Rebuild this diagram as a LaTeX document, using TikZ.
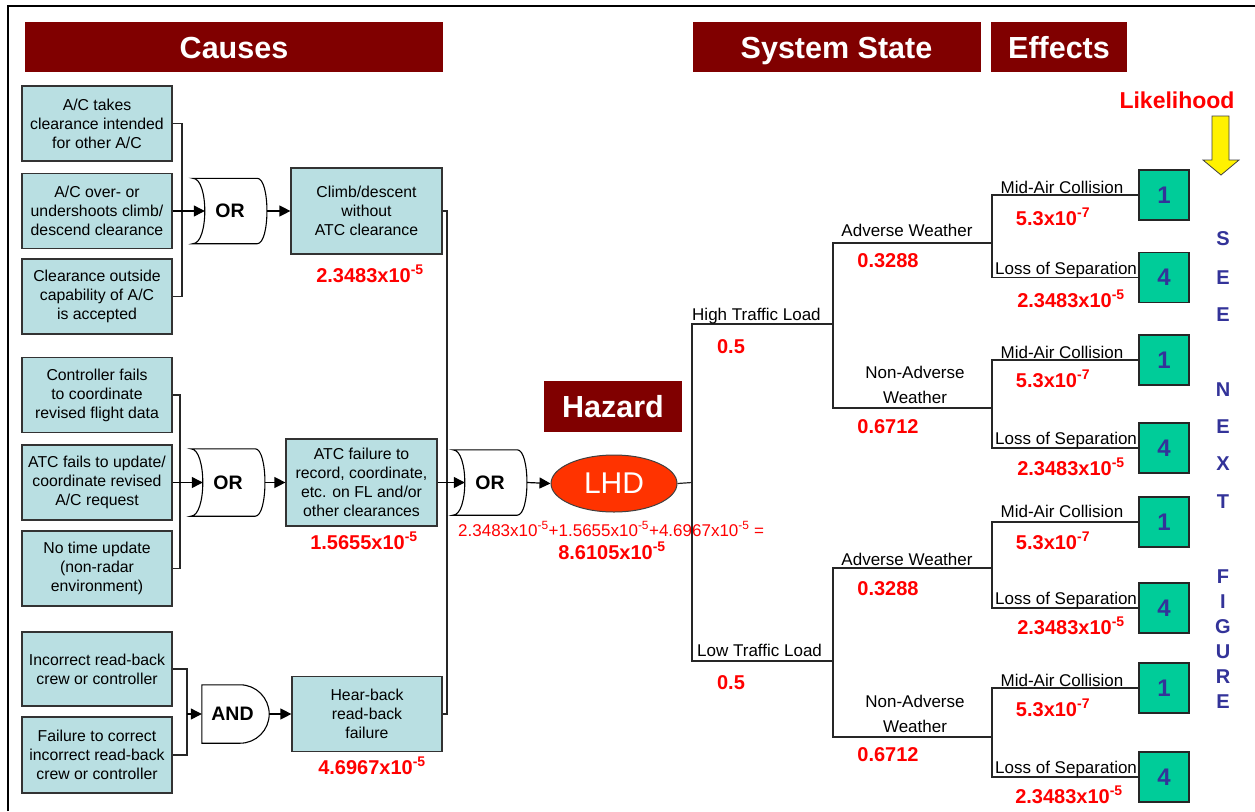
\documentclass[tikz,border=0pt]{standalone}
\usepackage{fontspec}
\setmainfont{Liberation Sans}
\usetikzlibrary{arrows.meta,shapes.geometric}
\definecolor{hdrmaroon}{HTML}{800000}
\definecolor{boxblue}{HTML}{B9DFE2}
\definecolor{effgreen}{HTML}{00CC99}
\definecolor{seeblue}{HTML}{333399}
\definecolor{lhdred}{HTML}{FF3300}
\newcommand\tenexp[2]{#1x10\textsuperscript{-#2}}
\newcommand\orshape[1]{\draw[gateline] (#1.north west) -- ([xshift=-10pt]#1.north east)
  .. controls ([xshift=3pt]#1.north east) and ([xshift=3pt]#1.south east) .. ([xshift=-10pt]#1.south east)
  -- (#1.south west) .. controls ([xshift=16pt]#1.south west) and ([xshift=16pt]#1.north west) .. cycle;}
\newcommand\andshape[1]{\draw[gateline] (#1.north west) -- ([xshift=-29pt]#1.north east)
  .. controls ([xshift=-13pt]#1.north east) and ([yshift=16pt]#1.east) .. (#1.east)
  .. controls ([yshift=-16pt]#1.east) and ([xshift=-13pt]#1.south east) .. ([xshift=-29pt]#1.south east)
  -- (#1.south west) -- cycle;}
\begin{document}
\begin{tikzpicture}[x=1pt,y=-1pt,
  header/.style={fill=hdrmaroon, text=white, font=\fontsize{30.5}{34}\selectfont\bfseries, inner sep=0, minimum height=50, text height=22pt, text depth=0pt},
  cause/.style={draw=black!80, fill=boxblue, line width=1.2pt, minimum width=150, minimum height=75, inner sep=0, align=center, font=\fontsize{15.8}{19}\selectfont},
  gate/.style={minimum width=74, minimum height=65, inner sep=0, font=\fontsize{19.5}{22}\selectfont\bfseries},
  gateline/.style={draw=black, fill=white, line width=1.1pt},
  wire/.style={draw=black!85, line width=1.2pt},
  arr/.style={draw=black, line width=1.2pt, -{Triangle[length=11pt,width=11pt]}},
  effbox/.style={draw=black!85, fill=effgreen, line width=1.5pt, minimum width=50, minimum height=50, inner sep=0, text=seeblue, font=\fontsize{24}{26}\selectfont\bfseries},
  lbl/.style={inner sep=0, font=\fontsize{17}{25}\selectfont},
  val/.style={inner sep=0, text=red, font=\fontsize{20}{24}\selectfont\bfseries, anchor=base},
  see/.style={inner sep=0, text=seeblue, font=\fontsize{20}{24}\selectfont\bfseries, anchor=base}
]
\useasboundingbox (0,0) rectangle (1255,811);
\fill[white] (0,0) rectangle (1255,811);
\draw[line width=2.2pt] (8,811) -- (8,6) -- (1255,6);

% headers
\node[header, minimum width=418] (hc) at (234,47) {Causes};
\node[header, minimum width=288] (hs) at (836.5,47) {System State};
\node[header, minimum width=136] (he) at (1059,47) {Effects};
\node[header, minimum width=138, minimum height=51] (hz) at (613,406.5) {Hazard};

% cause boxes
\node[cause] (b1) at (97,123.5) {A/C takes\\clearance intended\\for other A/C};
\node[cause] (b2) at (97,211) {A/C over- or\\undershoots climb/\\descend clearance};
\node[cause] (b3) at (97,296.5) {Clearance outside\\capability of A/C\\is accepted};
\node[cause] (b4) at (97,395) {Controller fails\\to coordinate\\revised flight data};
\node[cause] (b5) at (97,482.5) {ATC fails to update/\\coordinate revised\\A/C request};
\node[cause] (b6) at (97,568.5) {No time update\\(non-radar\\environment)};
\node[cause, minimum height=74] (b7) at (97,669) {Incorrect read-back\\crew or controller};
\node[cause, minimum height=76] (b8) at (97,755) {Failure to correct\\incorrect read-back\\crew or controller};

% intermediate boxes
\node[cause, minimum width=151, minimum height=86] (c1) at (366.5,211) {Climb/descent\\without\\ATC clearance};
\node[cause, minimum width=151, minimum height=87] (c2) at (361.5,482.5) {ATC failure to\\record, coordinate,\\etc. on FL and/or\\other clearances};
\node[cause, minimum width=150, minimum height=75] (c3) at (367,714) {Hear-back\\read-back\\failure};

% gates
\node[gate] (g1) at (230,211) {};
\node[gate, minimum height=67] (g2) at (228,482.5) {};
\node[gate] (g3) at (490,482.5) {};
\node[gate, minimum width=67, minimum height=58] (ga) at (235.5,714) {};
\orshape{g1}\orshape{g2}\orshape{g3}\andshape{ga}
\node[gate] at (g1) {OR};
\node[gate] at (g2) {OR};
\node[gate] at (g3) {OR};
\node[gate, minimum width=67, minimum height=58] at ([xshift=-3pt]ga.center) {AND};

% LHD
\node[ellipse, draw=black!75, fill=lhdred, line width=1pt, minimum width=126, minimum height=57, inner sep=0, text=white, font=\fontsize{30}{32}\selectfont] (lhd) at (614,483.5) {LHD};

% junctions
\coordinate (j1) at (182,211);
\coordinate (j2) at (180,482.5);
\coordinate (j3) at (187,714);
\coordinate (j4) at (447,482.5);

\draw[wire] (b1.east) -| (j1) |- (b3.east);
\draw[arr] (b2.east) -- ([xshift=12pt]g1.west);
\draw[arr] (g1.east) -- (c1.west);
\draw[wire] (b4.east) -| (j2) |- (b6.east);
\draw[arr] (b5.east) -- ([xshift=12pt]g2.west);
\draw[arr] (g2.east) -- (c2.west);
\draw[wire] (b7.east) -| (j3) |- (b8.east);
\draw[arr] (j3) -- (ga.west);
\draw[arr] (ga.east) -- (c3.west);
\draw[wire] (c1.east) -| (j4) |- (c3.east);
\draw[arr] (c2.east) -- ([xshift=12pt]g3.west);
\draw[arr] (g3.east) -- (lhd.west);

% values
\node[val] (v1) at (370,282) {\tenexp{2.3483}{5}};
\node[val] (v2) at (364,549) {\tenexp{1.5655}{5}};
\node[val] (v3) at (372,774) {\tenexp{4.6967}{5}};
\node[inner sep=0, anchor=base west, text=red, font=\fontsize{17}{19}\selectfont] (sum) at (458,536)
  {\tenexp{2.3483}{5}+\tenexp{1.5655}{5}+\tenexp{4.6967}{5} =};
\node[val] (tot) at (612,559) {\tenexp{8.6105}{5}};

% event tree coordinates
\coordinate (t0) at (692,482.5);
\coordinate (th) at (692,324);
\coordinate (tl) at (692,661);
\coordinate (m1) at (833,324);
\coordinate (m2) at (833,661);
\coordinate (hA) at (833,243);
\coordinate (hN) at (833,408);
\coordinate (lA) at (833,568);
\coordinate (lN) at (833,737);
\coordinate (k1) at (992,243);
\coordinate (k2) at (992,408);
\coordinate (k3) at (992,568);
\coordinate (k4) at (992,737);

% effect boxes
\node[effbox] (e1) at (1164,195) {1};
\node[effbox] (e2) at (1164,277.5) {4};
\node[effbox] (e3) at (1164,360) {1};
\node[effbox] (e4) at (1164,448) {4};
\node[effbox] (e5) at (1164,522) {1};
\node[effbox] (e6) at (1164,608) {4};
\node[effbox] (e7) at (1164,688) {1};
\node[effbox] (e8) at (1164,777) {4};

\draw[wire] (lhd.east) -- (t0);
\draw[wire] (m1) -- (th) -- (tl) -- (m2);
\draw[wire] (k1) -- (hA) -- (hN) -- (k2);
\draw[wire] (k3) -- (lA) -- (lN) -- (k4);
\draw[wire] (e1.west) -| (k1) |- (e2.west);
\draw[wire] (e3.west) -| (k2) |- (e4.west);
\draw[wire] (e5.west) -| (k3) |- (e6.west);
\draw[wire] (e7.west) -| (k4) |- (e8.west);

% tree labels
\node[lbl, anchor=base west] (lh) at (692,320) {High Traffic Load};
\node[lbl, anchor=base west] (ll) at (697,656) {Low Traffic Load};
\node[lbl, anchor=base] (la1) at (907,236) {Adverse Weather};
\node[lbl, anchor=base] (la2) at (907,565) {Adverse Weather};
\node[lbl, align=center] (ln1) at (915,384.5) {Non-Adverse\\Weather};
\node[lbl, align=center] (ln2) at (915,713.5) {Non-Adverse\\Weather};
\node[lbl, anchor=base] (mc1) at (1062,193) {Mid-Air Collision};
\node[lbl, anchor=base] (mc2) at (1062,358) {Mid-Air Collision};
\node[lbl, anchor=base] (mc3) at (1062,517) {Mid-Air Collision};
\node[lbl, anchor=base] (mc4) at (1062,686) {Mid-Air Collision};
\node[lbl, anchor=base west] (ls1) at (995,274) {Loss of Separation};
\node[lbl, anchor=base west] (ls2) at (995,444) {Loss of Separation};
\node[lbl, anchor=base west] (ls3) at (995,604) {Loss of Separation};
\node[lbl, anchor=base west] (ls4) at (995,773) {Loss of Separation};

% tree values
\node[val] (p1) at (731,353) {0.5};
\node[val] (p2) at (731,689) {0.5};
\node[val] (p3) at (888,267) {0.3288};
\node[val] (p4) at (888,595) {0.3288};
\node[val] (p5) at (888,433) {0.6712};
\node[val] (p6) at (888,761) {0.6712};
\node[val] (q1) at (1053,225) {\tenexp{5.3}{7}};
\node[val] (q2) at (1053,387) {\tenexp{5.3}{7}};
\node[val] (q3) at (1053,549) {\tenexp{5.3}{7}};
\node[val] (q4) at (1053,716) {\tenexp{5.3}{7}};
\node[val] (r1) at (1071,307) {\tenexp{2.3483}{5}};
\node[val] (r2) at (1071,475) {\tenexp{2.3483}{5}};
\node[val] (r3) at (1071,634) {\tenexp{2.3483}{5}};
\node[val] (r4) at (1069,803) {\tenexp{2.3483}{5}};

% likelihood
\node[inner sep=0, anchor=base, text=red, font=\fontsize{23}{26}\selectfont\bfseries] (lik) at (1177,108) {Likelihood};
\draw[fill=yellow, draw=black!75, line width=0.8pt] (1212,116) -- (1229,116) -- (1229,160) -- (1239,160) -- (1221,175) -- (1203,160) -- (1212,160) -- cycle;

% SEE NEXT FIGURE
\node[see] at (1223,245) {S};
\node[see] at (1223,284) {E};
\node[see] at (1223,321) {E};
\node[see] at (1223,396) {N};
\node[see] at (1223,433) {E};
\node[see] at (1223,470) {X};
\node[see] at (1223,508) {T};
\node[see] at (1223,583) {F};
\node[see] at (1223,608) {I};
\node[see] at (1223,633) {G};
\node[see] at (1223,658) {U};
\node[see] at (1223,683) {R};
\node[see] at (1223,708) {E};
\end{tikzpicture}
\end{document}
